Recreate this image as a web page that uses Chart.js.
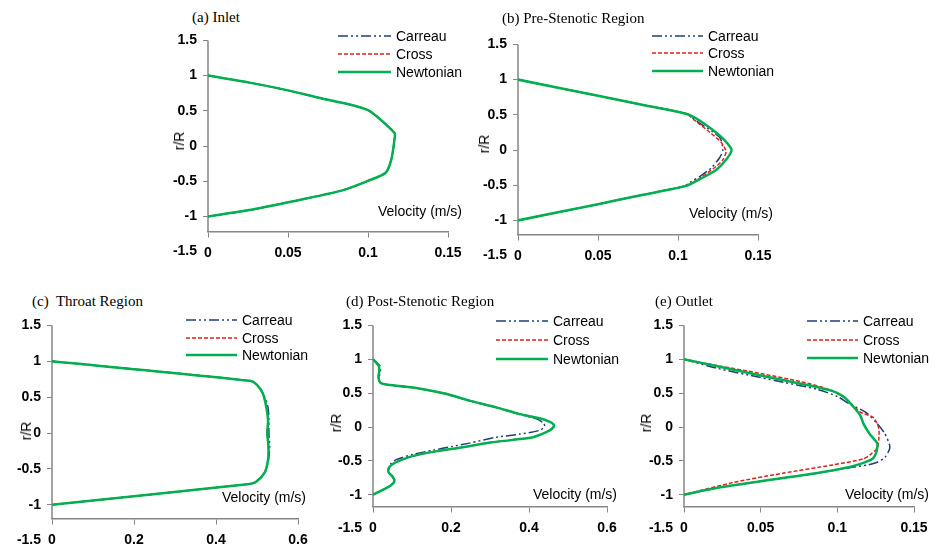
<!DOCTYPE html>
<html>
<head>
<meta charset="utf-8">
<script src="https://cdn.jsdelivr.net/npm/chart.js@4.4.1/dist/chart.umd.min.js"></script>
<style>
body { margin: 0; background: #fff; }
#page { position: relative; width: 937px; height: 553px; overflow: hidden; background: #fff; }
canvas { position: absolute; }
.t { position: absolute; white-space: nowrap; line-height: 16px; color: #000; }
.title { font-family: "Liberation Serif", serif; font-size: 15px; }
.lab { font-family: "Liberation Sans", sans-serif; font-size: 14px; }
.rr { transform: translate(-50%, -50%) rotate(-90deg); }
.leg { display: flex; align-items: center; }
.leg svg { display: block; }
</style>
</head>
<body>
<div id="page"></div>
<script>
// velocity (m/s) and r/R

// (a) Inlet - the three models lie on top of each other
var aNewtR = [1, 0.9, 0.79, 0.66, 0.59, 0.51, 0.43, 0.31, 0.18, 0.12, -0.19, -0.38, -0.495, -0.63, -0.8, -0.91, -1];
var aNewtV = [0, 0.026, 0.05, 0.074, 0.0885, 0.1, 0.105, 0.111, 0.1167, 0.1167, 0.1146, 0.111, 0.1, 0.084, 0.05, 0.026, 0];
var aCrossR = aNewtR, aCrossV = aNewtV;
var aCarR = aNewtR, aCarV = aNewtV;

// (b) Pre-Stenotic Region
var bNewtR = [1, 0.77, 0.65, 0.515, 0.44, 0.28, 0.14, 0, -0.14, -0.28, -0.41, -0.51, -0.645, -0.77, -1];
var bNewtV = [0, 0.05, 0.076, 0.105, 0.112, 0.122, 0.129, 0.1335, 0.130, 0.124, 0.114, 0.105, 0.076, 0.05, 0];
var bCrossR = [1, 0.77, 0.65, 0.515, 0.41, 0.25, 0.11, -0.02, -0.14, -0.23, -0.41, -0.51, -0.645, -0.77, -1];
var bCrossV = [0, 0.05, 0.076, 0.105, 0.111, 0.12, 0.127, 0.130, 0.128, 0.124, 0.113, 0.105, 0.076, 0.05, 0];
var bCarR = [1, 0.77, 0.65, 0.515, 0.39, 0.18, 0, -0.11, -0.25, -0.37, -0.46, -0.51, -0.645, -0.77, -1];
var bCarV = [0, 0.05, 0.076, 0.105, 0.113, 0.126, 0.128, 0.126, 0.121, 0.114, 0.1075, 0.104, 0.076, 0.05, 0];

// (c) Throat Region
var cNewtR = [1, 0.727, 0.67, 0.54, 0.35, 0.17, 0, -0.19, -0.37, -0.55, -0.68, -0.71, -1];
var cNewtV = [0, 0.483, 0.50, 0.515, 0.523, 0.527, 0.525, 0.528, 0.527, 0.519, 0.498, 0.482, 0];
var cCrossR = cNewtR, cCrossV = cNewtV;
var cCarR = cNewtR;
var cCarV = [0, 0.483, 0.50, 0.516, 0.527, 0.529, 0.529, 0.531, 0.528, 0.519, 0.498, 0.482, 0];

// (d) Post-Stenotic Region
var dNewtR = [1, 0.95, 0.9, 0.82, 0.74, 0.66, 0.63, 0.61, 0.57, 0.49, 0.39, 0.29, 0.19, 0.13, 0.08, 0.03, -0.03, -0.08, -0.15, -0.19, -0.23, -0.30, -0.36, -0.43, -0.5, -0.55, -0.6, -0.67, -0.73, -0.8, -0.86, -0.92, -1];
var dNewtV = [0, 0.008, 0.015, 0.016, 0.014, 0.018, 0.03, 0.06, 0.118, 0.187, 0.247, 0.316, 0.376, 0.427, 0.452, 0.464, 0.458, 0.443, 0.41, 0.359, 0.3, 0.23, 0.161, 0.101, 0.067, 0.05, 0.041, 0.04, 0.05, 0.055, 0.046, 0.028, 0];
var dCrossR = dNewtR, dCrossV = dNewtV;
var dCarR = [1, 0.95, 0.9, 0.82, 0.74, 0.66, 0.64, 0.61, 0.57, 0.49, 0.39, 0.29, 0.19, 0.12, 0.06, 0.01, -0.05, -0.105, -0.152, -0.238, -0.286, -0.343, -0.405, -0.486, -0.55, -0.6, -0.67, -0.73, -0.8, -0.86, -0.92, -1];
var dCarV = [0, 0.01, 0.018, 0.019, 0.016, 0.017, 0.025, 0.055, 0.115, 0.185, 0.245, 0.314, 0.374, 0.419, 0.437, 0.44, 0.427, 0.376, 0.316, 0.247, 0.204, 0.153, 0.101, 0.058, 0.045, 0.041, 0.04, 0.05, 0.055, 0.046, 0.028, 0];

// (e) Outlet
var eNewtR = [1, 0.9, 0.76, 0.64, 0.53, 0.45, 0.31, 0.17, 0.05, -0.1, -0.24, -0.31, -0.4, -0.47, -0.53, -0.59, -0.68, -0.8, -0.9, -1];
var eNewtV = [0, 0.021, 0.05, 0.076, 0.097, 0.104, 0.11, 0.115, 0.117, 0.121, 0.126, 0.126, 0.125, 0.123, 0.117, 0.108, 0.087, 0.05, 0.021, 0];
var eCrossR = [1, 0.91, 0.79, 0.67, 0.55, 0.41, 0.22, 0.14, -0.02, -0.19, -0.31, -0.4, -0.47, -0.56, -0.68, -0.82, -1];
var eCrossV = [0, 0.021, 0.05, 0.076, 0.095, 0.106, 0.115, 0.1235, 0.127, 0.127, 0.126, 0.122, 0.117, 0.097, 0.065, 0.032, 0];
var eCarR = [1, 0.87, 0.73, 0.66, 0.555, 0.45, 0.34, 0.21, 0.05, -0.1, -0.26, -0.33, -0.45, -0.52, -0.56, -0.6, -0.68, -0.8, -0.9, -1];
var eCarV = [0, 0.021, 0.05, 0.065, 0.087, 0.1, 0.108, 0.119, 0.126, 0.131, 0.134, 0.134, 0.131, 0.126, 0.12, 0.108, 0.087, 0.05, 0.021, 0];

var rTicks = [-1.5, -1, -0.5, 0, 0.5, 1, 1.5];

var AXIS_COL = '#868686';
var series = [
    { label: 'Carreau', color: '#1F3F7A', width: 1.5, dash: [10, 3, 2, 3, 2, 3], order: 3 },
    { label: 'Cross', color: '#E0201B', width: 1.5, dash: [4, 2], order: 2 },
    { label: 'Newtonian', color: '#00B050', width: 2.5, dash: [], order: 1 }
];

// area = pixel box of the plot (x=0..xMax, r/R=-1.5..1.5)
var panels = [
    { title: '(a) Inlet', tx: 192, ty: 17, area: [208, 38, 448, 254], xMax: 0.15, xStep: 0.05, axisAt: -1.22,
      rr: [179, 141], vel: [378, 211], leg: [338, 396, 36, 53.5, 71.5],
      data: [[aCarV, aCarR], [aCrossV, aCrossR], [aNewtV, aNewtR]] },
    { title: '(b) Pre-Stenotic Region', tx: 502, ty: 18, area: [518, 42, 758, 258], xMax: 0.15, xStep: 0.05, axisAt: -1.21,
      rr: [484, 144], vel: [689, 213], leg: [652, 708, 36, 53, 71],
      data: [[bCarV, bCarR], [bCrossV, bCrossR], [bNewtV, bNewtR]] },
    { title: '(c)&nbsp; Throat Region', tx: 32, ty: 301, area: [52, 323, 298, 543], xMax: 0.6, xStep: 0.2, axisAt: -1.19,
      rr: [26, 431], vel: [222, 497], leg: [186, 242, 320, 338, 355],
      data: [[cCarV, cCarR], [cCrossV, cCrossR], [cNewtV, cNewtR]] },
    { title: '(d) Post-Stenotic Region', tx: 346, ty: 301, area: [373, 323, 607, 531], xMax: 0.6, xStep: 0.2, axisAt: -1.18,
      rr: [336, 423], vel: [533, 494], leg: [496, 553, 321, 340, 359],
      data: [[dCarV, dCarR], [dCrossV, dCrossR], [dNewtV, dNewtR]] },
    { title: '(e) Outlet', tx: 655, ty: 301, area: [684, 323, 914, 531], xMax: 0.15, xStep: 0.05, axisAt: -1.18,
      rr: [646, 423], vel: [845, 494], leg: [807, 863, 321, 340, 358],
      data: [[eCarV, eCarR], [eCrossV, eCrossR], [eNewtV, eNewtR]] }
];

// vertical axis line stops where the horizontal axis crosses
var axisLine = {
    id: 'axisLine',
    beforeDatasetsDraw: function(chart, args, opts) {
        var c = chart.ctx, xs = chart.scales.x, ys = chart.scales.y;
        var px = xs.getPixelForValue(0);
        c.save();
        c.strokeStyle = AXIS_COL;
        c.lineWidth = 1.5;
        c.beginPath();
        c.moveTo(px, ys.getPixelForValue(rTicks[rTicks.length - 1]));
        c.lineTo(px, ys.getPixelForValue(opts.at));
        c.stroke();
        c.restore();
    }
};

function pts(v, r) {
    return v.map(function(x, i) { return { x: x, y: r[i] }; });
}

function fmt(v) {
    return String(Math.round(v * 1000) / 1000);
}

function addText(cls, html, x, y) {
    var d = document.createElement('div');
    d.className = 't ' + cls;
    d.innerHTML = html;
    d.style.left = x + 'px';
    d.style.top = y + 'px';
    document.getElementById('page').appendChild(d);
    return d;
}

var page = document.getElementById('page');
var YW = 48, PT = 12, PR = 28, PB = 12;
var tickFont = { family: 'Liberation Sans', size: 14, weight: 'bold' };

panels.forEach(function(p) {
    var a = p.area;
    var cv = document.createElement('canvas');
    var w = (a[2] - a[0]) + YW + PR, h = (a[3] - a[1]) + PT + PB;
    cv.width = w; cv.height = h;
    cv.style.left = (a[0] - YW) + 'px';
    cv.style.top = (a[1] - PT) + 'px';
    page.appendChild(cv);

    new Chart(cv, {
        type: 'scatter',
        data: {
            datasets: series.map(function(s, i) {
                return {
                    label: s.label,
                    data: pts(p.data[i][0], p.data[i][1]),
                    showLine: true,
                    borderColor: s.color,
                    backgroundColor: s.color,
                    borderWidth: s.width,
                    borderDash: s.dash,
                    pointRadius: 0,
                    tension: 0.25,
                    fill: false,
                    borderJoinStyle: 'round',
                    order: s.order
                };
            })
        },
        options: {
            responsive: false,
            animation: false,
            layout: { padding: { left: 0, top: PT, right: PR, bottom: PB } },
            plugins: { legend: { display: false }, tooltip: { enabled: false }, axisLine: { at: p.axisAt } },
            scales: {
                x: {
                    type: 'linear', min: 0, max: p.xMax, position: { y: p.axisAt },
                    ticks: { stepSize: p.xStep, color: '#000', font: tickFont, padding: 8, maxRotation: 0, callback: fmt },
                    grid: { drawOnChartArea: false, tickLength: 5, color: AXIS_COL, lineWidth: 1 },
                    border: { display: true, color: AXIS_COL, width: 1.5 }
                },
                y: {
                    type: 'linear', min: -1.5, max: 1.5,
                    ticks: { stepSize: 0.5, color: '#000', font: tickFont, padding: 6, callback: fmt },
                    grid: {
                        drawOnChartArea: false, tickLength: 5, lineWidth: 1,
                        color: function(ctx) { return ctx.tick && ctx.tick.value < p.axisAt ? 'rgba(0,0,0,0)' : AXIS_COL; }
                    },
                    border: { display: false },
                    afterFit: function(s) { s.width = YW; }
                }
            }
        },
        plugins: [axisLine]
    });

    addText('title', p.title, p.tx, p.ty - 8);
    addText('lab rr', 'r/R', p.rr[0], p.rr[1]);
    addText('lab', 'Velocity (m/s)', p.vel[0], p.vel[1] - 8);

    series.forEach(function(s, i) {
        var sw = p.leg[1] - p.leg[0] - 5;
        var row = addText('lab leg', '', p.leg[0], p.leg[2 + i] - 8);
        row.innerHTML = '<svg width="' + sw + '" height="16"><line x1="0" y1="8" x2="' + sw + '" y2="8" stroke="' + s.color +
            '" stroke-width="' + s.width + '" stroke-dasharray="' + (s.dash.length ? s.dash.join(',') : 'none') + '"/></svg>' +
            '<span style="margin-left:5px">' + s.label + '</span>';
    });
});
</script>
</body>
</html>
